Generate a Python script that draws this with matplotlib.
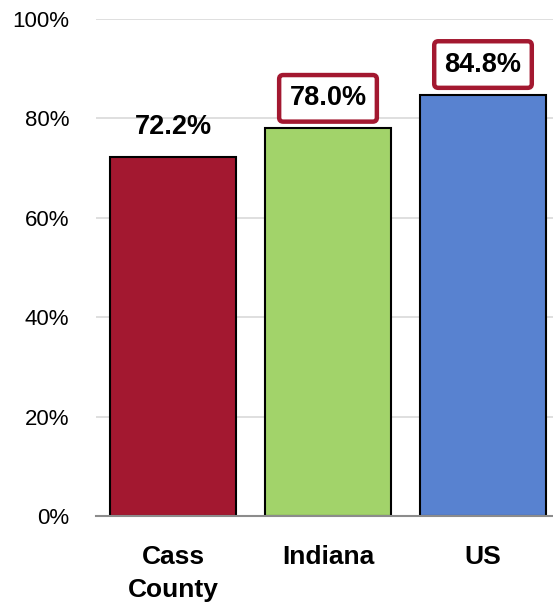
import matplotlib
matplotlib.use("Agg")
import matplotlib.pyplot as plt
from matplotlib import font_manager

names = {f.name for f in font_manager.fontManager.ttflist}
fam = [n for n in ["Liberation Sans Narrow", "Liberation Sans", "DejaVu Sans"] if n in names]
plt.rcParams['font.family'] = fam

categories = ["Cass\nCounty", "Indiana", "US"]
values = [72.2, 78.0, 84.8]
labels = ["72.2%", "78.0%", "84.8%"]
boxed = [False, True, True]
colors = ["#A31830", "#A2D36A", "#5882D0"]
yticks = [0, 20, 40, 60, 80, 100]
yticklabels = ["0%", "20%", "40%", "60%", "80%", "100%"]

fig = plt.figure(figsize=(5.53, 6.09), dpi=100)
W, H = 553, 609
left, right = 95.5, 560.5
bottom, top = 516, 19
ax = fig.add_axes([left / W, 1 - bottom / H, (right - left) / W, (bottom - top) / H])

x = list(range(len(categories)))
ax.bar(x, values, width=0.81, color=colors, edgecolor="black", linewidth=1.5, zorder=3)
ax.set_xlim(-0.5, 2.5)
ax.set_ylim(0, 100)
ax.set_yticks(yticks)
ax.set_yticklabels(yticklabels, fontsize=16)
ax.set_xticks(x)
ax.set_xticklabels(categories, fontsize=19, fontweight="bold", linespacing=1.45)
ax.tick_params(axis="both", length=0)
ax.tick_params(axis="y", pad=19)
ax.tick_params(axis="x", pad=21)
ax.grid(axis="y", color="#D9D9D9", linewidth=1.2, zorder=0)
for s in ["left", "right", "top"]:
    ax.spines[s].set_visible(False)
ax.spines["bottom"].set_color("#8C8C8C")
ax.spines["bottom"].set_linewidth(1.5)
ax.spines["bottom"].set_zorder(4)

for xi, v, lab, b in zip(x, values, labels, boxed):
    kw = {}
    if b:
        kw["bbox"] = dict(boxstyle="round,pad=0.38,rounding_size=0.15", facecolor="white",
                          edgecolor="#A31830", linewidth=3.2)
    ax.annotate(lab, (xi, v), xytext=(0, 30), textcoords="offset pixels",
                ha="center", va="center", fontsize=19.5, fontweight="bold", zorder=5, **kw)

fig.savefig("out.png", dpi=100)
